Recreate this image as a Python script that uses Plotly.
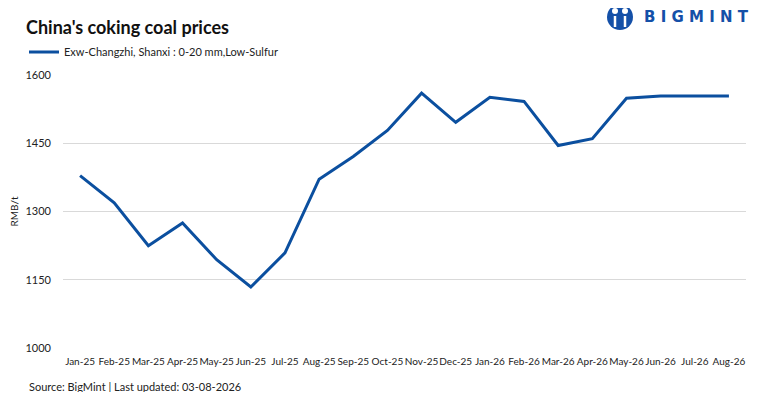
import plotly.graph_objects as go

months = ["Jan-25", "Feb-25", "Mar-25", "Apr-25", "May-25", "Jun-25", "Jul-25",
          "Aug-25", "Sep-25", "Oct-25", "Nov-25", "Dec-25", "Jan-26", "Feb-26",
          "Mar-26", "Apr-26", "May-26", "Jun-26", "Jul-26", "Aug-26"]
prices = [1379, 1319, 1225, 1275, 1194, 1134, 1209, 1371, 1421, 1478,
          1560, 1496, 1551, 1542, 1445, 1460, 1549, 1554, 1554, 1554]
y_ticks = [1000, 1150, 1300, 1450, 1600]

series_name = "Exw-Changzhi, Shanxi : 0-20 mm,Low-Sulfur"
blue = "#0b4f9f"
logo_blue = "#1450a8"
font = "Lato"

# page body has an 8px margin, so the figure is shrunk and coordinates offset
OFF = 8
W, H = 761 - 2 * OFF, 400 - 2 * OFF
L, R, T, B = 63 - OFF, 761 - OFF - 746, 75 - OFF, 400 - OFF - 348


# page pixel -> paper helpers for the decorations
def px(x):
    return (x - OFF - L) / (W - L - R)


def py(y):
    return (H - B - (y - OFF)) / (H - T - B)


fig = go.Figure()
fig.add_trace(go.Scatter(x=months, y=prices, mode="lines", name=series_name,
                         line=dict(color=blue, width=3)))

fig.update_layout(
    width=W, height=H,
    margin=dict(l=L, r=R, t=T, b=B, autoexpand=False),
    paper_bgcolor="white", plot_bgcolor="white",
    font=dict(family=font, size=11, color="#222"),
    showlegend=True,
    legend=dict(orientation="h", x=px(24), y=py(52), xanchor="left", yanchor="middle",
                font=dict(size=11, color="#222"), bgcolor="rgba(0,0,0,0)"),
    title=dict(text="<b>China's coking coal prices</b>", x=(26 - OFF) / W, xref="container",
               xanchor="left", y=1 - (28 - OFF) / H, yref="container", yanchor="middle",
               pad=dict(l=0, t=0, b=0), font=dict(family=font, size=18, color="#111")),
)

fig.update_xaxes(type="category", range=[-0.5, len(months) - 0.5], showgrid=False,
                 showline=False, ticks="", tickangle=0, ticklabelstandoff=6,
                 tickfont=dict(size=10, color="#222"))
fig.update_yaxes(range=[1000, 1600], tickvals=y_ticks, showgrid=True,
                 gridcolor="#d9d9d9", gridwidth=1, zeroline=False, showline=False,
                 ticks="", ticklabelstandoff=11, tickfont=dict(size=11, color="#222"),
                 title=dict(text="RMB/t", font=dict(size=10, color="#222"), standoff=10))

# source note
fig.add_annotation(text="Source: BigMint | Last updated: 03-08-2026", xref="paper", yref="paper",
                   x=px(27), y=py(386), xanchor="left", yanchor="middle", showarrow=False,
                   font=dict(size=11, color="#222"))

# logo
fig.add_shape(type="circle", xref="paper", yref="paper", x0=px(607), x1=px(633), y0=py(30), y1=py(4),
              fillcolor=logo_blue, line=dict(width=0))
for cx in (615, 625):
    fig.add_shape(type="circle", xref="paper", yref="paper", x0=px(cx - 3), x1=px(cx + 3),
                  y0=py(14), y1=py(8), fillcolor="white", line=dict(width=0))
    fig.add_shape(type="line", xref="paper", yref="paper", x0=px(cx), x1=px(cx),
                  y0=py(27), y1=py(16), line=dict(color="white", width=2.5))
fig.add_annotation(text="<b>B I G M I N T</b>", xref="paper", yref="paper", x=px(642), y=py(17),
                   xanchor="left", yanchor="middle", showarrow=False,
                   font=dict(family="DejaVu Sans", size=15, color=logo_blue))

fig.write_html("out.html")
